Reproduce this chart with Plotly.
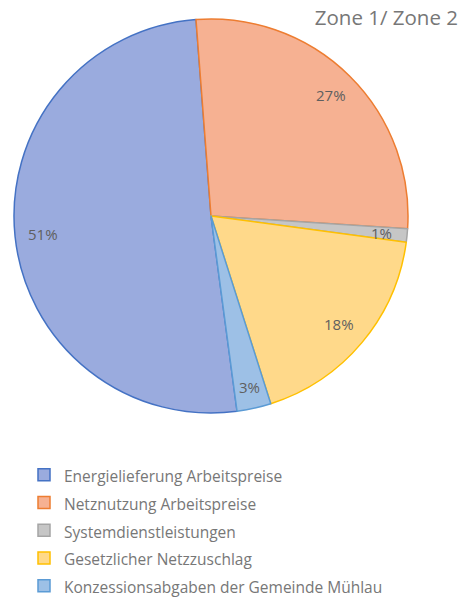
import math
import plotly.graph_objects as go

labels = ["Energielieferung Arbeitspreise", "Netznutzung Arbeitspreise",
          "Systemdienstleistungen", "Gesetzlicher Netzzuschlag",
          "Konzessionsabgaben der Gemeinde Mühlau"]
values = [51.0, 27.3, 1.1, 18.0, 2.8]
percent_labels = ["51%", "27%", "1%", "18%", "3%"]
fill_colors = ["#9AABDE", "#F6B192", "#C6C6C6", "#FFD98A", "#9DC0E6"]
line_colors = ["#4472C4", "#ED7D31", "#A5A5A5", "#FFC000", "#5B9BD5"]
title_text = "Zone 1/ Zone 2"

W, H = 465, 598
ROTATION = 172.4
dom_x = [14 / W, 408 / W]
dom_y = [1 - 413 / H, 1 - 19 / H]
legend_labels = ['<span style="font-size:15.5px">%s</span>' % l for l in labels]

fig = go.Figure(go.Pie(
    labels=legend_labels,
    values=values,
    sort=False,
    direction="clockwise",
    rotation=ROTATION,
    marker=dict(colors=fill_colors, line=dict(color=line_colors, width=1.5)),
    textinfo="none",
    domain=dict(x=dom_x, y=dom_y),
    hoverinfo="label+percent",
))

# data labels placed Excel-style near the outer part of each slice, along its mid-angle
cx = (dom_x[0] + dom_x[1]) / 2
cy = (dom_y[0] + dom_y[1]) / 2
r_px = min((dom_x[1] - dom_x[0]) * W, (dom_y[1] - dom_y[0]) * H) / 2
total = sum(values)
cum = 0.0
label_r = [0.86, 0.865, 0.87, 0.85, 0.89]
for v, txt, lr in zip(values, percent_labels, label_r):
    mid = math.radians(ROTATION + (cum + v / 2) / total * 360)
    cum += v
    fig.add_annotation(
        x=cx + lr * r_px * math.sin(mid) / W,
        y=cy + lr * r_px * math.cos(mid) / H,
        xref="paper", yref="paper", xanchor="center", yanchor="middle",
        text=txt, showarrow=False,
        font=dict(family="Open Sans", size=15, color="#5F5F5F"),
    )

fig.update_layout(
    width=W, height=H,
    margin=dict(l=0, r=0, t=0, b=0, autoexpand=False),
    paper_bgcolor="white",
    font=dict(family="Open Sans", color="#777777"),
    title=dict(text=title_text, x=458 / W, xanchor="right", xref="paper",
               y=1 - 18 / H, yanchor="middle", yref="container",
               font=dict(family="Open Sans", size=20.5, color="#777777")),
    showlegend=True,
    legend=dict(x=24 / W, xanchor="left", y=1 - 456 / H, yanchor="top",
                font=dict(family="Open Sans", size=19, color="#777777"),
                bgcolor="rgba(0,0,0,0)", traceorder="normal"),
)

fig.write_html("out.html", config={"displayModeBar": False},
               post_script="document.body.style.margin='0';document.body.style.overflow='hidden';")
